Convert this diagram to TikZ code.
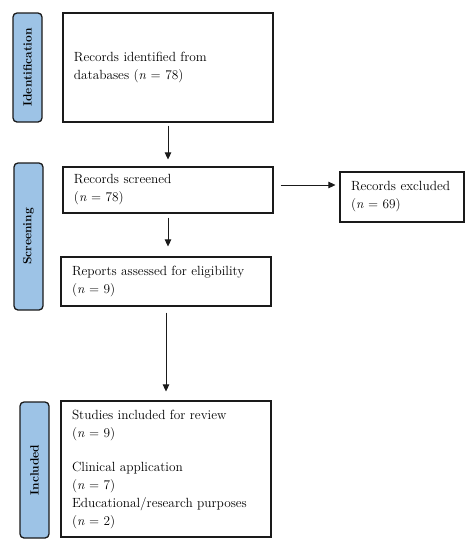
\documentclass[tikz,border=0pt]{standalone}
\usetikzlibrary{arrows.meta}
\definecolor{stageblue}{HTML}{9DC3E6}
\definecolor{edge}{HTML}{1A1A1A}
\begin{document}
\begin{tikzpicture}[x=1pt,y=-1pt,
  stage/.style={draw=edge, line width=1.3pt, fill=stageblue, rounded corners=4pt, inner sep=0pt},
  stagetext/.style={rotate=90, font=\fontsize{12}{14}\selectfont\bfseries},
  flowbox/.style={draw=edge, line width=1.1pt, inner xsep=11pt, inner ysep=0pt, align=left,
    font=\fontsize{13.3}{18}\selectfont},
  flowarrow/.style={draw=edge, line width=0.7pt, -{Triangle[length=7pt,width=6.5pt]}}]
\useasboundingbox (0,0) rectangle (474,550);
% stage labels
\node[stage, minimum width=29pt, minimum height=109pt] (lid) at (27.5,67.5) {};
\node[stagetext] at (lid.center) {Identification};
\node[stage, minimum width=29pt, minimum height=147pt] (lsc) at (28.5,236.5) {};
\node[stagetext] at (lsc.center) {Screening};
\node[stage, minimum width=29pt, minimum height=136pt] (lin) at (34.5,470) {};
\node[stagetext] at (lin.center) {Included};
% boxes
\node[flowbox, text width=188pt, minimum height=109pt] (b1) at (168,67.5)
  {Records identified from\\databases (\textit{n} = 78)};
\node[flowbox, text width=188pt, minimum height=46pt] (b2) at (168,190)
  {Records screened\\(\textit{n} = 78)};
\node[flowbox, text width=102pt, minimum height=50pt] (b5) at (402,197)
  {Records excluded\\(\textit{n} = 69)};
\node[flowbox, text width=188pt, minimum height=49pt] (b3) at (166,281.5)
  {Reports assessed for eligibility\\(\textit{n} = 9)};
\node[flowbox, text width=188pt, minimum height=136pt] (b4) at (166,469)
  {Studies included for review\\(\textit{n} = 9)\\[16pt]Clinical application\\(\textit{n} = 7)\\Educational/research purposes\\(\textit{n} = 2)};
% arrows
\draw[flowarrow, shorten <=3pt, shorten >=7pt] (b1.south) -- (b2.north);
\draw[flowarrow, shorten <=4pt, shorten >=10pt] (b2.south) -- (b3.north -| b2.south);
\coordinate (hs) at ([yshift=5pt]b2.east);
\draw[flowarrow, shorten <=7pt, shorten >=4pt] (hs) -- (hs -| b5.west);
\draw[flowarrow, shorten <=6pt, shorten >=9pt] (b3.south) -- (b4.north -| b3.south);
\end{tikzpicture}
\end{document}
